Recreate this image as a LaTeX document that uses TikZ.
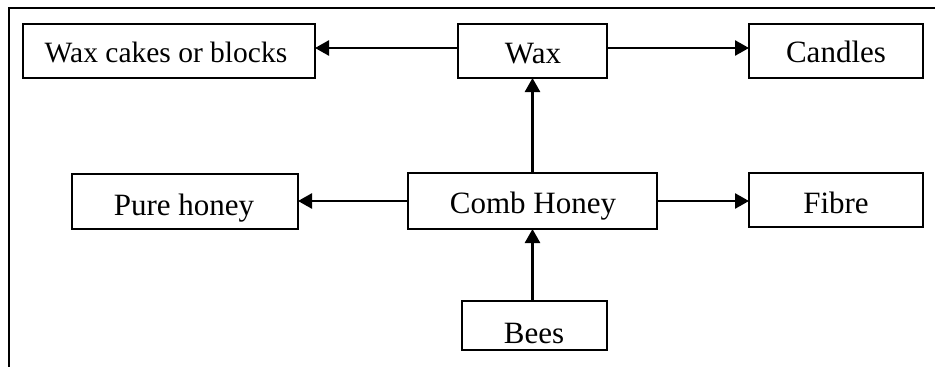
\documentclass[tikz,border=0pt]{standalone}
\usepackage{fontspec}
\setmainfont{Liberation Serif}
\usetikzlibrary{arrows.meta}
\begin{document}
\begin{tikzpicture}[x=1pt,y=-1pt,
  box/.style={draw, line width=2pt, inner sep=0pt, outer sep=0pt},
  lbl/.style={anchor=base, inner sep=0pt, font=\fontsize{31}{36}\selectfont},
  arr/.style={line width=2.6pt, -{Triangle[length=14pt,width=15pt]}},
  frameline/.style={line width=2pt}]
\useasboundingbox (0,0) rectangle (935,367);

% outer frame (top and left edges only)
\coordinate (fTR) at (935,7.5);
\coordinate (fTL) at (8.7,7.5);
\coordinate (fBL) at (8.7,367);
\draw[frameline] (fTR) -- (fTL) -- (fBL);

% boxes
\node[box, minimum width=292pt, minimum height=54pt] (cakes)   at (169,51)    {};
\node[box, minimum width=149pt, minimum height=54pt] (wax)     at (532.5,51)  {};
\node[box, minimum width=174pt, minimum height=54pt] (candles) at (836,51)    {};
\node[box, minimum width=226pt, minimum height=55pt] (pure)    at (185,201.5) {};
\node[box, minimum width=249pt, minimum height=56pt] (comb)    at (532.5,201) {};
\node[box, minimum width=174pt, minimum height=54pt] (fibre)   at (836,200)   {};
\node[box, minimum width=145pt, minimum height=49pt] (bees)    at (534.5,325.5) {};

% labels
\node[lbl, font=\fontsize{29.5}{35}\selectfont] (cakes-t) at (166,62) {Wax cakes or blocks};
\node[lbl] (wax-t)     at (533,63)  {Wax};
\node[lbl] (candles-t) at (836,62)  {Candles};
\node[lbl] (pure-t)    at (184,215) {Pure honey};
\node[lbl] (comb-t)    at (533,213) {Comb Honey};
\node[lbl] (fibre-t)   at (836,213) {Fibre};
\node[lbl] (bees-t)    at (534,343) {Bees};

% connectors
\draw[arr] ([yshift=3pt]wax.west) -- ([yshift=3pt]cakes.east);
\draw[arr] ([yshift=3pt]wax.east) -- ([yshift=3pt]candles.east -| candles.west);
\draw[arr] (comb.north) -- (comb.north |- wax.south);
\draw[arr] (comb.west) -- (comb.west -| pure.east);
\draw[arr] (comb.east) -- (comb.east -| fibre.west);
\draw[arr] (bees.north -| comb.south) -- (comb.south);
\end{tikzpicture}
\end{document}
